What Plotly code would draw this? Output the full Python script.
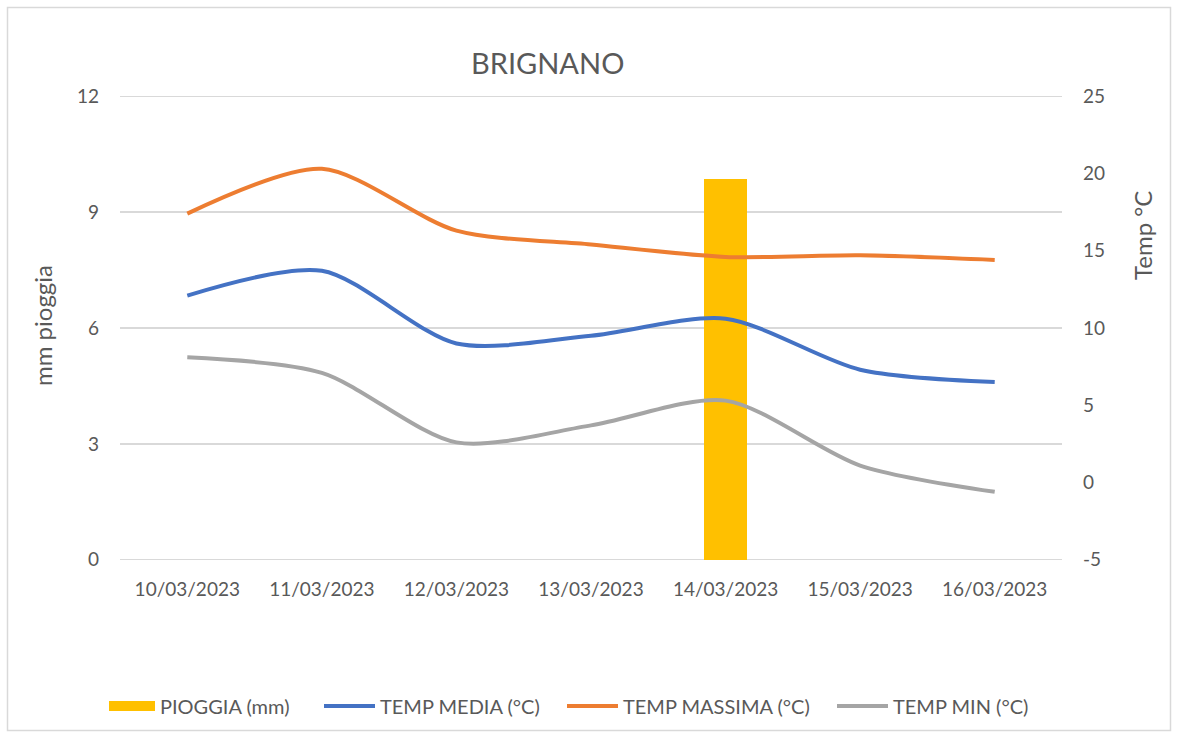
import plotly.graph_objects as go

dates = ["10/03/2023", "11/03/2023", "12/03/2023", "13/03/2023",
         "14/03/2023", "15/03/2023", "16/03/2023"]
pioggia = [0, 0, 0, 0, 9.85, 0, 0]
temp_media = [12.1, 13.7, 9.0, 9.5, 10.6, 7.3, 6.5]
temp_massima = [17.4, 20.3, 16.3, 15.4, 14.6, 14.7, 14.4]
temp_min = [8.1, 7.1, 2.6, 3.7, 5.3, 1.1, -0.6]

left_ticks = [0, 3, 6, 9, 12]
right_ticks = [-5, 0, 5, 10, 15, 20, 25]

FONT = "Lato"
TXT = "#595959"

# plot area pixel geometry
W, H = 1178, 738
L, R, T, B = 120, 116, 96, 178
PW, PH = W - L - R, H - T - B

def px_x(x):
    return (x - L) / PW

def px_y(y):
    return (H - B - y) / PH

fig = go.Figure()
fig.add_trace(go.Bar(x=dates, y=pioggia, name="PIOGGIA (mm)", showlegend=False,
                     marker=dict(color="#FFC000", line=dict(width=0)),
                     width=0.32, yaxis="y"))
# legend swatch for the bar series (wide rectangle like the original)
fig.add_trace(go.Scatter(x=[None], y=[None], name="PIOGGIA (mm)", mode="lines",
                         line=dict(color="#FFC000", width=10), yaxis="y", legend="legend"))
fig.add_trace(go.Scatter(x=dates, y=temp_media, name="TEMP MEDIA (°C)", mode="lines",
                         line=dict(color="#4472C4", width=4, shape="spline", smoothing=0.8),
                         yaxis="y2", legend="legend2"))
fig.add_trace(go.Scatter(x=dates, y=temp_massima, name="TEMP MASSIMA (°C)", mode="lines",
                         line=dict(color="#ED7D31", width=4, shape="spline", smoothing=0.8),
                         yaxis="y2", legend="legend3"))
fig.add_trace(go.Scatter(x=dates, y=temp_min, name="TEMP MIN (°C)", mode="lines",
                         line=dict(color="#A5A5A5", width=4, shape="spline", smoothing=0.8),
                         yaxis="y2", legend="legend4"))

def leg(xpx, iw=51):
    return dict(orientation="h", x=px_x(xpx), xanchor="left", y=px_y(706), yanchor="middle",
                font=dict(size=20, color=TXT), itemwidth=iw, bgcolor="rgba(0,0,0,0)")

eps = 0.005
fig.update_layout(
    width=W, height=H,
    margin=dict(l=L, r=R, t=T, b=B, autoexpand=False),
    paper_bgcolor="white", plot_bgcolor="white",
    font=dict(family=FONT, color=TXT, size=18),
    showlegend=True,
    legend=leg(104, 46), legend2=leg(319), legend3=leg(562), legend4=leg(832),
    bargap=0,
    xaxis=dict(type="category", range=[-0.5, 6.5], showgrid=False, showline=False,
               ticks="", tickfont=dict(size=19, color=TXT), ticklabelstandoff=16),
    yaxis=dict(range=[-eps, 12 + eps], tickvals=left_ticks, showgrid=True, gridcolor="#D9D9D9",
               gridwidth=1.5, zeroline=False, showline=False, ticks="",
               tickfont=dict(size=19, color=TXT), ticklabelstandoff=20),
    yaxis2=dict(range=[-5 - eps * 2.5, 25 + eps * 2.5], tickvals=right_ticks,
                ticktext=[str(v) for v in right_ticks], overlaying="y", side="right",
                showgrid=False, zeroline=False, showline=False, ticks="",
                tickfont=dict(size=19, color=TXT), ticklabelstandoff=20),
    annotations=[
        dict(text="BRIGNANO", xref="paper", yref="paper", x=px_x(547), y=px_y(62),
             showarrow=False, font=dict(size=29, color=TXT), xanchor="center", yanchor="middle"),
        dict(text="mm pioggia", xref="paper", yref="paper", x=px_x(42), y=px_y(326),
             showarrow=False, textangle=-90, font=dict(size=24, color=TXT),
             xanchor="center", yanchor="middle"),
        dict(text="Temp °C", xref="paper", yref="paper", x=px_x(1142), y=px_y(236),
             showarrow=False, textangle=-90, font=dict(size=24, color=TXT),
             xanchor="center", yanchor="middle"),
    ],
    shapes=[dict(type="rect", xref="paper", yref="paper",
                 x0=px_x(7.5), x1=px_x(1170.5), y0=px_y(730.5), y1=px_y(7.5),
                 line=dict(color="#D9D9D9", width=1.5), fillcolor="rgba(0,0,0,0)", layer="below")]
    + [dict(type="line", xref="paper", yref="y", x0=0, x1=1, y0=v, y1=v,
            line=dict(color="#D9D9D9", width=1.5), layer="below")
       for v in (left_ticks[0], left_ticks[-1])],
)

fig.write_html("out.html", config={"displayModeBar": False},
               post_script="document.body.style.margin='0';")
